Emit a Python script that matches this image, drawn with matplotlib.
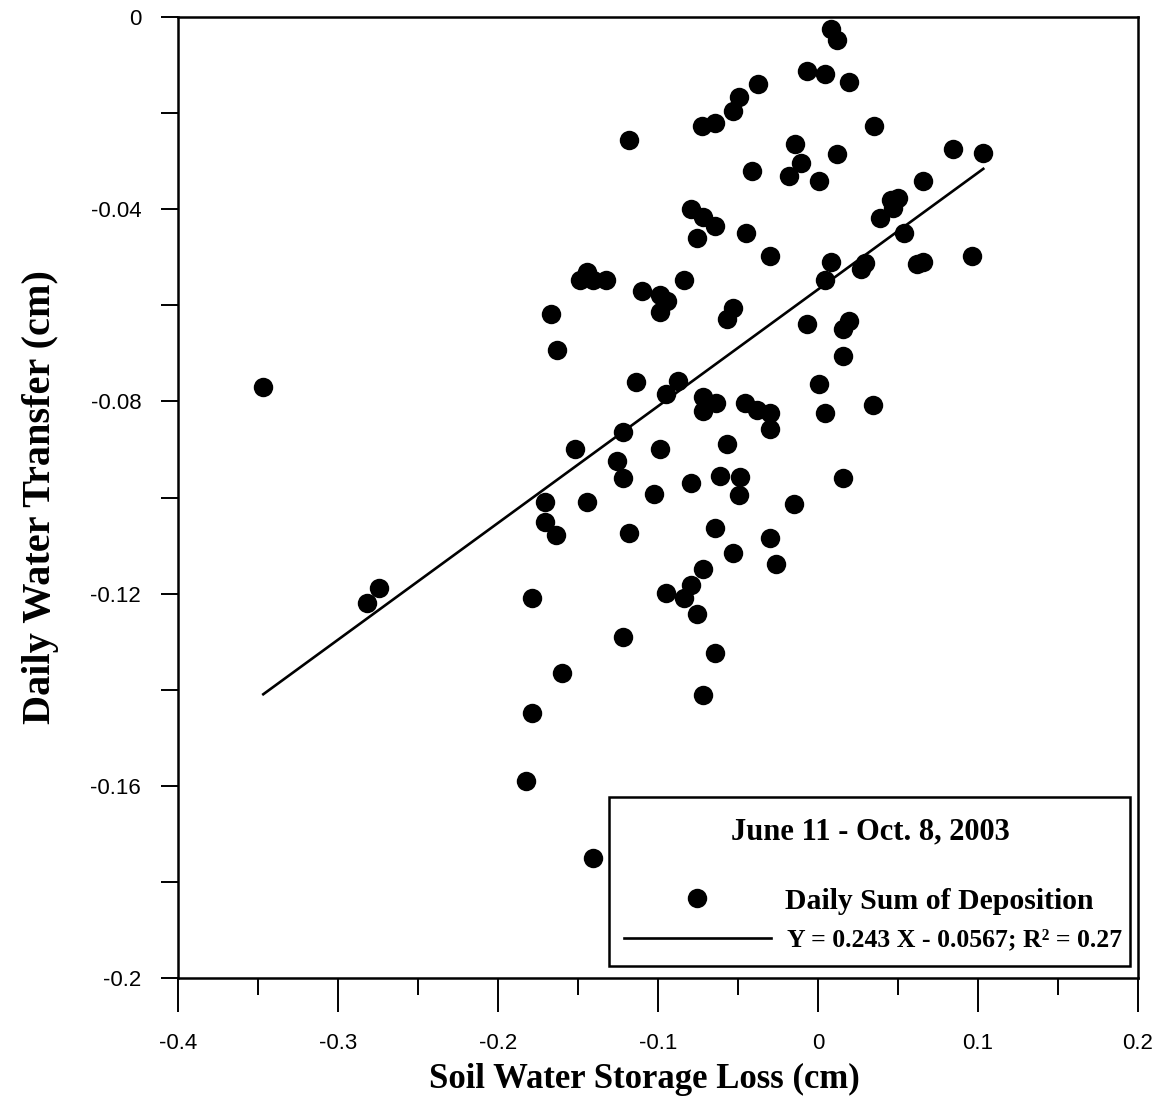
import matplotlib
matplotlib.use("Agg")
import matplotlib.pyplot as plt
from matplotlib.lines import Line2D
from matplotlib.patches import Rectangle
from matplotlib.ticker import FixedLocator, FixedFormatter, MultipleLocator
import numpy as np

# Daily soil water storage loss (cm) and daily water transfer (cm)
storage_loss = [
    0.0079, 0.0121, -0.0071, 0.0044, 0.0196, -0.0375, -0.0492, -0.0529, -0.0646, -0.0723,
    0.0350, -0.1179, -0.0144, 0.0121, -0.0108, -0.0414, -0.0181, 0.0006, 0.0846, 0.1033,
    0.0654, 0.0500, 0.0456, 0.0469, 0.0388, 0.0539, -0.0796, -0.0719, -0.0646, -0.0758,
    -0.0452, -0.0300, 0.0081, 0.0044, 0.0294, 0.0269, 0.0617, 0.0654, 0.0961, -0.1446,
    -0.1488, -0.1408, -0.1327, -0.1102, -0.0988, -0.0946, -0.0988, -0.0836, -0.0529, -0.0567,
    -0.0071, 0.0196, 0.0158, 0.0158, -0.1671, -0.1633, -0.3467, -0.1139, -0.0873, -0.0950,
    -0.0721, -0.0639, -0.0721, -0.0456, -0.0379, -0.0300, -0.0300, 0.0006, 0.0044, 0.0346,
    -0.1217, -0.1519, -0.0988, -0.0567, -0.1254, -0.1217, -0.0796, -0.0613, -0.0488, 0.0158,
    -0.1706, -0.1706, -0.1638, -0.1446, -0.1025, -0.0492, -0.0150, -0.1179, -0.0644, -0.0529,
    -0.0300, -0.0263, -0.0721, -0.0796, -0.0950, -0.0836, -0.0758, -0.1217, -0.0644, -0.1598,
    -0.0721, -0.2744, -0.2821, -0.1789, -0.1789, -0.1827, -0.1408,
]
water_transfer = [
    -0.0026, -0.0048, -0.0112, -0.0119, -0.0135, -0.0140, -0.0167, -0.0196, -0.0221, -0.0227,
    -0.0227, -0.0255, -0.0264, -0.0286, -0.0303, -0.0320, -0.0330, -0.0341, -0.0275, -0.0282,
    -0.0341, -0.0377, -0.0381, -0.0398, -0.0418, -0.0449, -0.0400, -0.0416, -0.0434, -0.0460,
    -0.0449, -0.0497, -0.0509, -0.0547, -0.0513, -0.0525, -0.0514, -0.0509, -0.0497, -0.0530,
    -0.0547, -0.0547, -0.0547, -0.0570, -0.0579, -0.0591, -0.0613, -0.0547, -0.0606, -0.0629,
    -0.0639, -0.0633, -0.0650, -0.0705, -0.0618, -0.0694, -0.0769, -0.0759, -0.0758, -0.0785,
    -0.0790, -0.0803, -0.0820, -0.0803, -0.0818, -0.0824, -0.0858, -0.0764, -0.0824, -0.0807,
    -0.0863, -0.0900, -0.0900, -0.0889, -0.0925, -0.0960, -0.0969, -0.0955, -0.0958, -0.0960,
    -0.1009, -0.1052, -0.1078, -0.1009, -0.0993, -0.0995, -0.1014, -0.1073, -0.1063, -0.1116,
    -0.1085, -0.1138, -0.1149, -0.1182, -0.1198, -0.1210, -0.1242, -0.1291, -0.1323, -0.1366,
    -0.1410, -0.1188, -0.1220, -0.1209, -0.1448, -0.1589, -0.1751,
]

# Least-squares fit reported on the chart
fit_slope = 0.243
fit_intercept = -0.0567
fit_r2 = 0.27

x_tick_values = [-0.4, -0.3, -0.2, -0.1, 0.0, 0.1, 0.2]
x_tick_labels = ["-0.4", "-0.3", "-0.2", "-0.1", "0", "0.1", "0.2"]
y_tick_values = [0.0, -0.04, -0.08, -0.12, -0.16, -0.2]
y_tick_labels = ["0", "-0.04", "-0.08", "-0.12", "-0.16", "-0.2"]

period_label = "June 11 - Oct. 8, 2003"
series_label = "Daily Sum of Deposition"
fit_label = f"Y = {fit_slope} X - {abs(fit_intercept)}; R\u00b2 = {fit_r2}"
x_title = "Soil Water Storage Loss (cm)"
y_title = "Daily Water Transfer (cm)"

SERIF = "Liberation Serif"
SANS = "Liberation Sans"

fig = plt.figure(figsize=(11.65, 10.99), dpi=100)
ax = fig.add_axes([178 / 1165, 121 / 1099, 960 / 1165, 961 / 1099])

x = np.array(storage_loss)
y = np.array(water_transfer)

ax.plot(x, y, linestyle="none", marker="o", markersize=14, color="black",
        markeredgewidth=0, zorder=3)

x_fit = np.array([x.min(), x.max()])
ax.plot(x_fit, fit_slope * x_fit + fit_intercept, color="black", lw=1.9, zorder=2)

ax.set_xlim(-0.4, 0.2)
ax.set_ylim(-0.2, 0.0)

ax.xaxis.set_major_locator(FixedLocator(x_tick_values))
ax.xaxis.set_major_formatter(FixedFormatter(x_tick_labels))
ax.xaxis.set_minor_locator(MultipleLocator(0.05))
ax.yaxis.set_major_locator(FixedLocator(y_tick_values))
ax.yaxis.set_major_formatter(FixedFormatter(y_tick_labels))
ax.yaxis.set_minor_locator(MultipleLocator(0.02))

for side in ["top", "right", "bottom", "left"]:
    ax.spines[side].set_linewidth(1.8)

ax.tick_params(axis="x", which="major", direction="out", length=24.5, width=1.4,
               pad=15, labelsize=16)
ax.tick_params(axis="x", which="minor", direction="out", length=12.5, width=1.4)
ax.tick_params(axis="y", which="major", direction="out", length=12, width=1.4,
               pad=14.5, labelsize=16)
ax.tick_params(axis="y", which="minor", direction="out", length=12, width=1.4)
for lab in ax.get_xticklabels() + ax.get_yticklabels():
    lab.set_fontfamily(SANS)

ax.set_xlabel(x_title, fontfamily=SERIF, fontweight="bold", fontsize=25, va="center")
ax.xaxis.set_label_coords(0.486, -0.106)
ax.set_ylabel(y_title, fontfamily=SERIF, fontweight="bold", fontsize=29,
              va="center", ha="center")
ax.yaxis.set_label_coords(-0.1437, 0.5)

# Legend panel: frame, period heading and the two entries
ax.add_patch(Rectangle((0.449, 0.0125), 0.5427, 0.1759, transform=ax.transAxes,
                       facecolor="white", edgecolor="black", lw=1.8, zorder=5))
ax.text(0.7208, 0.1519, period_label, transform=ax.transAxes, ha="center",
        va="center", fontfamily=SERIF, fontweight="bold", fontsize=22, zorder=6)

dot_handle = Line2D([], [], linestyle="none", marker="o", markersize=14,
                    color="black", markeredgewidth=0)
line_handle = Line2D([], [], color="black", lw=1.9)

leg1 = ax.legend([dot_handle], [series_label], loc="center left",
                 bbox_to_anchor=(0.4646, 0.0801), frameon=False, borderpad=0,
                 borderaxespad=0, handlelength=4.93, handletextpad=0.50,
                 prop={"family": SERIF, "weight": "bold", "size": 21.4})
leg1.set_zorder(7)
ax.add_artist(leg1)
leg2 = ax.legend([line_handle], [fit_label], loc="center left",
                 bbox_to_anchor=(0.4646, 0.0395), frameon=False, borderpad=0,
                 borderaxespad=0, handlelength=5.72, handletextpad=0.62,
                 prop={"family": SERIF, "weight": "bold", "size": 18.5})
leg2.set_zorder(7)

fig.savefig("out.png", dpi=100, facecolor="white")
